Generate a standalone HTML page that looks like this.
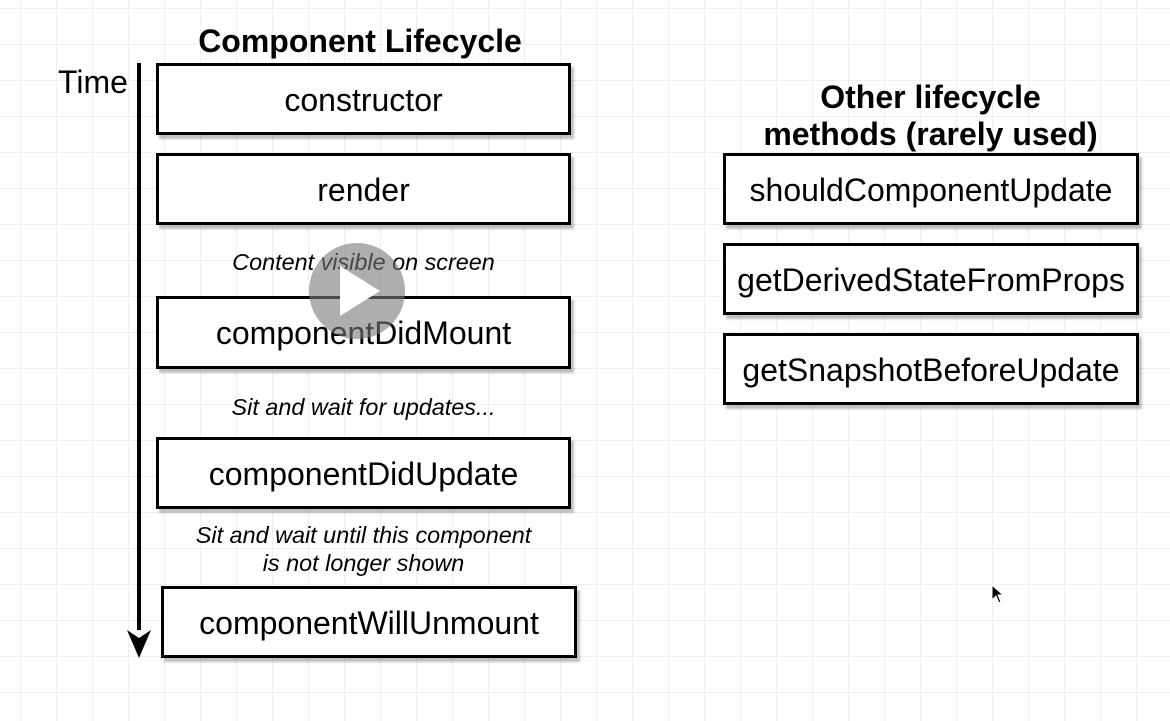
<!DOCTYPE html>
<html><head><style>
body{margin:0;width:1170px;height:721px;overflow:hidden;position:relative;font-family:"Liberation Sans",sans-serif;
background-color:#fff;
background-image:linear-gradient(#efefef 1px,transparent 1px),linear-gradient(90deg,#efefef 1px,transparent 1px);
background-size:36px 36px;background-position:20px 8px;}
.b{position:absolute;box-sizing:border-box;border:3px solid #000;background:#fff;box-shadow:3px 4px 2px rgba(0,0,0,0.25);
display:flex;align-items:center;justify-content:center;font-size:32px;color:#000;padding-top:2px;}
.t{position:absolute;font-size:23.4px;font-style:italic;text-align:center;color:#000;}
.h{position:absolute;font-weight:bold;font-size:32px;text-align:center;}
</style></head><body>
<div class="h" style="left:160px;top:23px;width:400px">Component Lifecycle</div>
<div style="position:absolute;left:58px;top:64px;font-size:32px">Time</div>
<div style="position:absolute;left:137px;top:63px;width:4px;height:580px;background:#000"></div>
<svg style="position:absolute;left:127px;top:630px" width="24" height="30"><polygon points="0,0 24,0 12,28" fill="#000"/><polygon points="0,0 12,8 24,0" fill="#fff"/></svg>
<div class="b" style="left:156px;top:63px;width:415px;height:72px">constructor</div>
<div class="b" style="left:156px;top:153px;width:415px;height:72px">render</div>
<div class="t" style="left:136px;top:249px;width:455px">Content visible on screen</div>
<div class="b" style="left:156px;top:296px;width:415px;height:73px">componentDidMount</div>
<div class="t" style="left:136px;top:394px;width:455px">Sit and wait for updates...</div>
<div class="b" style="left:156px;top:437px;width:415px;height:72px">componentDidUpdate</div>
<div class="t" style="left:136px;top:521px;width:455px;line-height:28px">Sit and wait until this component<br>is not longer shown</div>
<div class="b" style="left:161px;top:586px;width:416px;height:72px">componentWillUnmount</div>
<div class="h" style="left:703px;top:79px;width:455px;line-height:37px">Other lifecycle<br>methods (rarely used)</div>
<div class="b" style="left:723px;top:153px;width:416px;height:72px">shouldComponentUpdate</div>
<div class="b" style="left:723px;top:243px;width:416px;height:72px">getDerivedStateFromProps</div>
<div class="b" style="left:723px;top:333px;width:416px;height:72px">getSnapshotBeforeUpdate</div>
<div style="position:absolute;left:309px;top:243px;width:96px;height:96px;border-radius:50%;background:rgba(120,120,120,0.6)"></div>
<svg style="position:absolute;left:340px;top:266px" width="44" height="50"><polygon points="0,0 40,25 0,50" fill="#fff"/></svg>
<svg style="position:absolute;left:991px;top:584px" width="14" height="20"><polygon points="1,1 1,16 5,12 8,19 10,18 7,11 12,11" fill="#000" stroke="#fff" stroke-width="1"/></svg>
</body></html>
